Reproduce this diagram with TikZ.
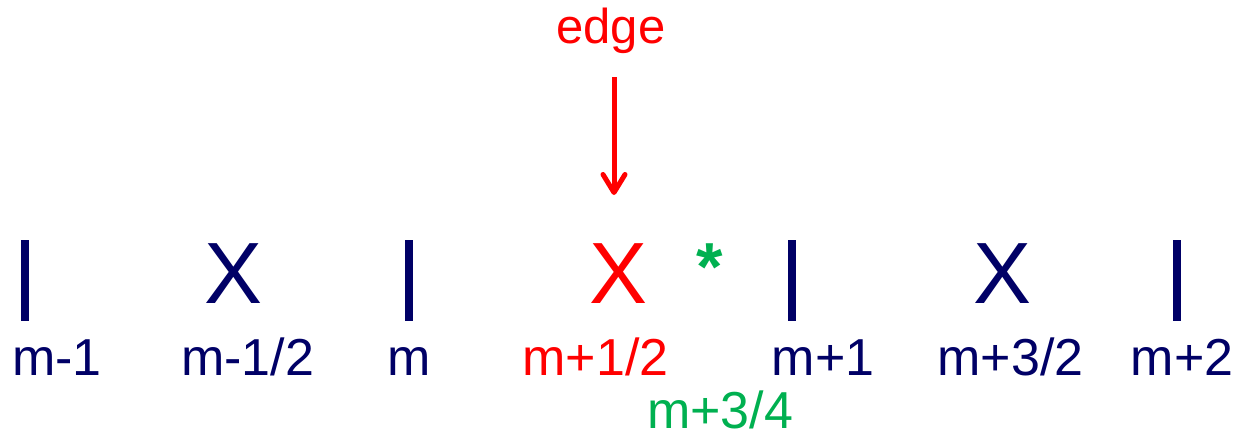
\documentclass[tikz,border=0pt]{standalone}
\usepackage{fontspec}
\setmainfont{Liberation Sans}
\usetikzlibrary{arrows.meta}
\definecolor{navy}{RGB}{0,0,102}
\definecolor{pgreen}{RGB}{0,176,80}
\definecolor{pred}{RGB}{255,0,0}
\tikzset{
  lbl/.style={inner sep=0pt, anchor=base, font=\fontsize{52}{60}\selectfont},
  bigx/.style={inner sep=0pt, anchor=base, font=\fontsize{87}{100}\selectfont},
  bar/.style={line width=8pt, navy},
}
\begin{document}
\begin{tikzpicture}[x=1pt,y=-1pt]
\useasboundingbox (0,0) rectangle (1237,440);
% title and arrow
\node[lbl, pred, font=\fontsize{49}{58}\selectfont] (edge) at (611,43) {edge};
\coordinate (atop) at (614,77);
\coordinate (abot) at (614,195);
\draw[pred, line width=5pt, -{Straight Barb[length=18pt,width=22pt,round]}] (atop) -- (abot);
% bars
\draw[bar] (24.7,240) -- (24.7,320.5);
\draw[bar] (409,240) -- (409,320.5);
\draw[bar] (792,240) -- (792,320.5);
\draw[bar] (1177,240) -- (1177,320.5);
% X marks
\node[bigx, navy] (x1) at (234,303.3) {X};
\node[bigx, pred] (x2) at (618.5,303.3) {X};
\node[bigx, navy] (x3) at (1002.5,303.3) {X};
\node[lbl, pgreen, font=\fontsize{68}{80}\selectfont\bfseries] (star) at (710,290) {*};
% labels
\node[lbl, navy] (l1) at (57,375) {m-1};
\node[lbl, navy] (l2) at (247.5,375) {m-1/2};
\node[lbl, navy] (l3) at (409.5,375) {m};
\node[lbl, pred] (l4) at (595.5,375) {m+1/2};
\node[lbl, navy] (l5) at (823,375) {m+1};
\node[lbl, navy] (l6) at (1010.5,375) {m+3/2};
\node[lbl, navy] (l7) at (1182,375) {m+2};
\node[lbl, pgreen] (l8) at (720,428) {m+3/4};
\end{tikzpicture}
\end{document}
